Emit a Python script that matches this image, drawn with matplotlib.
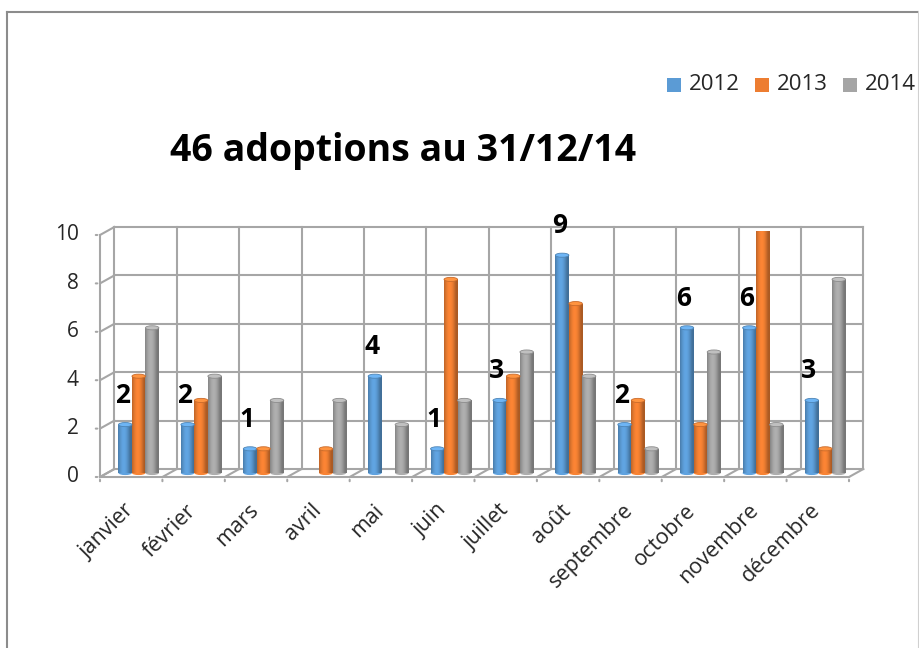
import matplotlib
matplotlib.use("Agg")
import matplotlib.pyplot as plt
import numpy as np
from matplotlib.patches import Ellipse, Rectangle
from matplotlib.lines import Line2D
from matplotlib.colors import to_rgb

plt.rcParams['font.family'] = ['Open Sans', 'DejaVu Sans']

# data
months = ["janvier", "février", "mars", "avril", "mai", "juin", "juillet",
          "août", "septembre", "octobre", "novembre", "décembre"]
years = ["2012", "2013", "2014"]
adopt_2012 = [2, 2, 1, 0, 4, 1, 3, 9, 2, 6, 6, 3]
adopt_2013 = [4, 3, 1, 1, 0, 8, 4, 7, 3, 2, 10, 1]
adopt_2014 = [6, 4, 3, 3, 2, 3, 5, 4, 1, 5, 2, 8]
series = [adopt_2012, adopt_2013, adopt_2014]
colors = ["#5B9BD5", "#ED7D31", "#A5A5A5"]
yticks = [0, 2, 4, 6, 8, 10]
title = "46 adoptions au 31/12/14"

W, H = 920, 648
txt_c = "#262626"
fig = plt.figure(figsize=(W / 100, H / 100), dpi=100)

# outer border of the chart frame
fig.add_artist(Line2D([7 / W, 7 / W], [0, 1 - 12 / H], color="#8c8c8c", lw=1.5))
fig.add_artist(Line2D([7 / W, 919 / W], [1 - 12 / H, 1 - 12 / H], color="#8c8c8c", lw=1.5))
fig.add_artist(Line2D([919 / W, 919 / W], [0, 1 - 12 / H], color="#d0d0d0", lw=1.5))

ax = fig.add_axes([100 / W, 1 - 477 / H, 749 / W, 242 / H])
ax.set_xlim(-0.5, 11.5)
ax.set_ylim(0, 10)
ax.axis("off")

n = len(months)
dx_back, dy_back = 0.23, 0.33   # depth offset of the back wall
dx_mid, dy_mid = 0.12, 0.165    # depth offset of the bar row
grid_c = "#a6a6a6"
lw = 1.5

# back wall gridlines
for v in yticks:
    ax.plot([-0.5 + dx_back, n - 0.5 + dx_back], [v + dy_back, v + dy_back],
            color=grid_c, lw=lw, clip_on=False, zorder=1)
    ax.plot([-0.5, -0.5 + dx_back], [v, v + dy_back], color=grid_c, lw=lw,
            clip_on=False, zorder=1)
for i in range(n + 1):
    x = i - 0.5 + dx_back
    ax.plot([x, x], [dy_back, 10 + dy_back], color=grid_c, lw=lw, clip_on=False, zorder=1)
    ax.plot([i - 0.5, x], [0, dy_back], color=grid_c, lw=lw, clip_on=False, zorder=1)

# front axes
ax.plot([-0.5, n - 0.5], [0, 0], color=grid_c, lw=lw, clip_on=False, zorder=1)
ax.plot([-0.5, -0.5], [0, 10], color=grid_c, lw=lw, clip_on=False, zorder=1)
for i in range(n + 1):
    ax.annotate("", xy=(i - 0.5, 0), xytext=(0, -7), textcoords="offset pixels",
                arrowprops=dict(arrowstyle="-", color=grid_c, lw=lw), annotation_clip=False)
for v in yticks:
    ax.annotate("", xy=(-0.5, v), xytext=(-7, 0), textcoords="offset pixels",
                arrowprops=dict(arrowstyle="-", color=grid_c, lw=lw), annotation_clip=False)
    ax.annotate(str(v), xy=(-0.5, v), xytext=(-21, 0), textcoords="offset pixels",
                ha="right", va="center", fontsize=15, color=txt_c,
                annotation_clip=False)

# month labels
for i, m in enumerate(months):
    ax.annotate(m, xy=(i, 0), xytext=(7, -23), textcoords="offset pixels",
                ha="right", va="top", rotation=45, fontsize=15.5, color=txt_c,
                annotation_clip=False)

# cylinder-like bars
bw = 0.216
x = np.arange(n)
grad = np.linspace(0, 1, 64)
shade = 0.8 + 0.3 * np.sin(np.pi * np.clip(grad * 1.15, 0, 1)) - 0.08 * grad
for k, (vals, col) in enumerate(zip(series, colors)):
    base = np.array(to_rgb(col))
    img = np.clip(base[None, :] * shade[:, None], 0, 1)[None, :, :]
    xs = x + dx_mid + (k - 1) * bw
    bars = ax.bar(xs, vals, width=bw, bottom=dy_mid, color=col, zorder=3)
    for b, v in zip(bars, vals):
        if v == 0:
            continue
        x0, y0 = b.get_x(), b.get_y()
        im = ax.imshow(img, extent=(x0, x0 + bw, y0, y0 + v), aspect="auto",
                       zorder=3.5, interpolation="bilinear")
        im.set_clip_path(b)
        top = np.clip(base * 1.1 + 0.04, 0, 1)
        ax.add_patch(Ellipse((x0 + bw / 2, y0 + v), bw, 0.17, facecolor=top,
                             edgecolor=base * 0.85, lw=0.6, zorder=4))
        ax.add_patch(Ellipse((x0 + bw / 2, y0), bw, 0.17, facecolor=base * shade[20],
                             edgecolor="none", zorder=2.9))
    if k == 0:
        for xi, v in zip(xs, vals):
            if v:
                ax.annotate(str(v), xy=(xi, v + dy_mid), xytext=(-3, 16),
                            textcoords="offset pixels", ha="center", va="bottom",
                            fontsize=19, fontweight="bold", color="black",
                            annotation_clip=False, zorder=5)

ax.set_xlim(-0.5, 11.5)
ax.set_ylim(0, 10)

# title
fig.text(403 / W, 1 - 151 / H, title, ha="center", va="center",
         fontsize=27, fontweight="bold", color="black")

# legend
for k, (name, col) in enumerate(zip(years, colors)):
    lx = 667 + 88 * k
    fig.add_artist(Rectangle((lx / W, 1 - 92 / H), 14 / W, 14 / H,
                             transform=fig.transFigure, facecolor=col, edgecolor="none"))
    fig.text((lx + 22) / W, 1 - 85 / H, name, ha="left", va="center",
             fontsize=16, color=txt_c)

fig.savefig("out.png", dpi=100)
